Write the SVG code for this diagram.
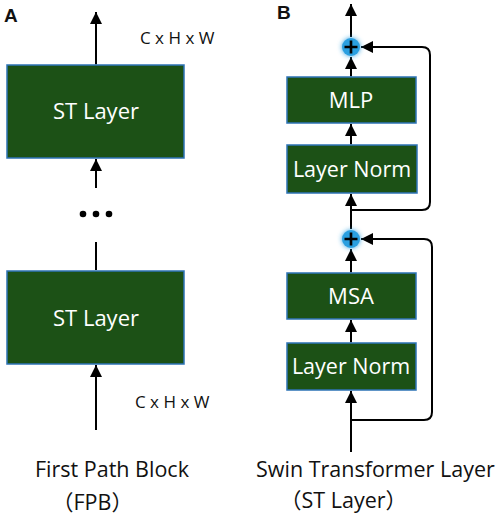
<svg xmlns="http://www.w3.org/2000/svg" width="498" height="516" viewBox="0 0 498 516">
<defs>
<style>
.box{fill:#1d5119;stroke:#2e75b6;stroke-width:1.5}
.bt{font-family:"Open Sans","Noto Sans",sans-serif;fill:#ffffff;text-anchor:middle}
.lbl{font-family:"Open Sans","Noto Sans",sans-serif;fill:#111111}
.cjk{font-family:"Noto Sans CJK SC",sans-serif}
.hd{font-family:"Liberation Sans",Arial,sans-serif;font-weight:bold;fill:#111111;font-size:19px}
.ln{fill:none;stroke:#000000;stroke-width:2}
.add{fill:#2b9fe0}
</style>
<marker id="ah" viewBox="0 0 10 10" refX="10" refY="5" markerWidth="6" markerHeight="6.5" markerUnits="strokeWidth" orient="auto">
<path d="M0,0 L10,5 L0,10 Z" fill="#000000"/>
</marker>
<filter id="glow" x="-50%" y="-50%" width="200%" height="200%">
<feGaussianBlur in="SourceAlpha" stdDeviation="2.5"/>
<feOffset dy="2"/>
<feFlood flood-color="#9fd0f0" flood-opacity="0.8"/>
<feComposite operator="in" in2="SourceGraphic"/>
<feMerge><feMergeNode/><feMergeNode in="SourceGraphic"/></feMerge>
</filter>
<filter id="cglow" x="-80%" y="-80%" width="260%" height="260%">
<feGaussianBlur in="SourceGraphic" stdDeviation="2.5"/>
<feMerge><feMergeNode/><feMergeNode in="SourceGraphic"/></feMerge>
</filter>
</defs>

<text class="hd" x="4" y="22">A</text>
<text class="hd" x="277" y="19">B</text>

<g id="connectors">
<!-- Panel A -->
<line class="ln" x1="96" y1="65" x2="96" y2="12" marker-end="url(#ah)"/>
<line class="ln" x1="96" y1="188" x2="96" y2="159" marker-end="url(#ah)"/>
<line class="ln" x1="96" y1="242" x2="96" y2="270"/>
<line class="ln" x1="96" y1="430" x2="96" y2="365" marker-end="url(#ah)"/>
<!-- Panel B -->
<line class="ln" x1="351" y1="37" x2="351" y2="4" marker-end="url(#ah)"/>
<line class="ln" x1="351" y1="77" x2="351" y2="57" marker-end="url(#ah)"/>
<line class="ln" x1="351" y1="145" x2="351" y2="124" marker-end="url(#ah)"/>
<line class="ln" x1="351" y1="229" x2="351" y2="194" marker-end="url(#ah)"/>
<path class="ln" d="M351,210 H422 Q430,210 430,202 V55 Q430,47 422,47 H361" marker-end="url(#ah)"/>
<line class="ln" x1="351" y1="273" x2="351" y2="249" marker-end="url(#ah)"/>
<line class="ln" x1="351" y1="343" x2="351" y2="320" marker-end="url(#ah)"/>
<line class="ln" x1="351" y1="452" x2="351" y2="391" marker-end="url(#ah)"/>
<path class="ln" d="M351,420 H424 Q432,420 432,412 V247 Q432,239 424,239 H361" marker-end="url(#ah)"/>
</g>

<g id="st1">
<rect class="box" x="7" y="65" width="177" height="93" filter="url(#glow)"/>
<text class="bt" x="96" y="119" font-size="22">ST Layer</text>
</g>
<g id="dots">
<circle cx="83" cy="214" r="3.3" fill="#000"/>
<circle cx="96" cy="214" r="3.3" fill="#000"/>
<circle cx="109" cy="214" r="3.3" fill="#000"/>
</g>
<g id="st2">
<rect class="box" x="7" y="271" width="177" height="93" filter="url(#glow)"/>
<text class="bt" x="96" y="326" font-size="22">ST Layer</text>
</g>
<text class="lbl" x="140" y="44" font-size="17">C x H x W</text>
<text class="lbl" x="135" y="408" font-size="17">C x H x W</text>
<text class="lbl" x="35" y="477" font-size="21.5">First Path Block</text>
<text class="lbl" x="52" y="510" font-size="21.5"><tspan class="cjk">（</tspan>FPB<tspan class="cjk">）</tspan></text>

<g id="add1">
<circle class="add" cx="351" cy="47" r="9" filter="url(#cglow)"/>
<path d="M344.5,47 H357.5 M351,40.5 V53.5" stroke="#000" stroke-width="2.6"/>
</g>
<g id="mlp">
<rect class="box" x="287" y="77" width="129" height="46" filter="url(#glow)"/>
<text class="bt" x="351" y="107.5" font-size="22">MLP</text>
</g>
<g id="ln1">
<rect class="box" x="287" y="145" width="130" height="48" filter="url(#glow)"/>
<text class="bt" x="352" y="176.5" font-size="21.5">Layer Norm</text>
</g>
<g id="add2">
<circle class="add" cx="351" cy="239" r="9" filter="url(#cglow)"/>
<path d="M344.5,239 H357.5 M351,232.5 V245.5" stroke="#000" stroke-width="2.6"/>
</g>
<g id="msa">
<rect class="box" x="287" y="273" width="129" height="46" filter="url(#glow)"/>
<text class="bt" x="351" y="303.5" font-size="22">MSA</text>
</g>
<g id="ln2">
<rect class="box" x="287" y="343" width="129" height="47" filter="url(#glow)"/>
<text class="bt" x="351" y="374" font-size="21.5">Layer Norm</text>
</g>
<text class="lbl" x="256" y="477" font-size="21.5">Swin Transformer Layer</text>
<text class="lbl" x="280" y="508" font-size="21.5"><tspan class="cjk">（</tspan>ST Layer<tspan class="cjk">）</tspan></text>
</svg>
